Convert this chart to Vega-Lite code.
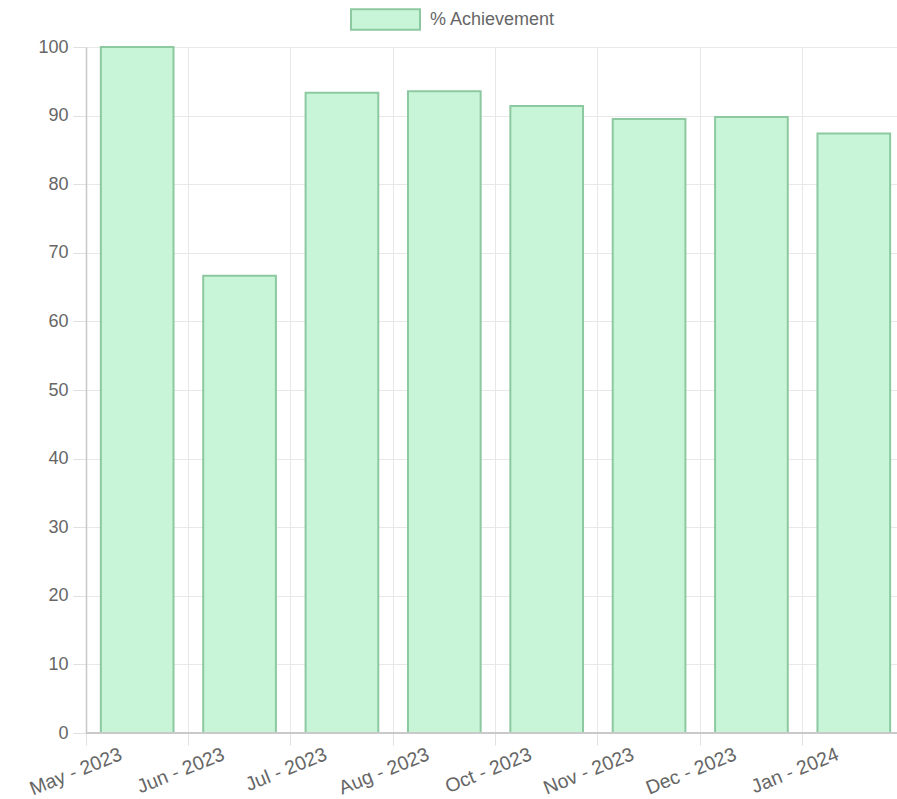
{
  "$schema": "https://vega.github.io/schema/vega-lite/v6.json",
  "autosize": {"type": "none"},
  "padding": {"left": 86, "top": 47, "right": 0, "bottom": 66},
  "width": 811,
  "height": 686,
  "background": "white",
  "config": {
    "view": {"stroke": null},
    "font": "Liberation Sans"
  },
  "data": {
    "values": [
      {"month": "May - 2023", "achievement": 100},
      {"month": "Jun - 2023", "achievement": 66.67},
      {"month": "Jul - 2023", "achievement": 93.33},
      {"month": "Aug - 2023", "achievement": 93.55},
      {"month": "Oct - 2023", "achievement": 91.4},
      {"month": "Nov - 2023", "achievement": 89.5},
      {"month": "Dec - 2023", "achievement": 89.8},
      {"month": "Jan - 2024", "achievement": 87.4}
    ]
  },
  "encoding": {
    "x": {
      "field": "month",
      "type": "nominal",
      "sort": null,
      "scale": {"paddingInner": 0, "paddingOuter": 0, "range": [0, 819]},
      "axis": {
        "title": null,
        "bandPosition": 0,
        "grid": true,
        "gridColor": "#e8e8e8",
        "gridWidth": 1,
        "ticks": true,
        "tickSize": 12,
        "tickColor": "#e0e0e0",
        "domain": false,
        "labelAngle": -22,
        "labelAlign": "right",
        "labelBaseline": "middle",
        "labelOffset": -16,
        "labelPadding": 8,
        "labelFontSize": 19.5,
        "labelColor": "#666666",
        "labelFont": "Liberation Sans"
      }
    },
    "y": {
      "field": "achievement",
      "type": "quantitative",
      "scale": {"domain": [0, 100], "nice": false},
      "axis": {
        "title": null,
        "values": [0, 10, 20, 30, 40, 50, 60, 70, 80, 90, 100],
        "grid": true,
        "gridColor": "#e8e8e8",
        "ticks": true,
        "tickSize": 13,
        "tickColor": "#e0e0e0",
        "domain": true,
        "domainColor": "#c8c8c8",
        "domainWidth": 1.5,
        "labelPadding": 5,
        "labelFontSize": 18,
        "labelColor": "#666666",
        "labelFont": "Liberation Sans"
      }
    },
    "color": {
      "datum": "% Achievement",
      "type": "nominal",
      "scale": {"range": ["#c8f5d8"]},
      "legend": {
        "title": null,
        "orient": "none",
        "legendX": 264,
        "legendY": -63,
        "symbolType": "M-1,-0.3L1,-0.3L1,0.3L-1,0.3Z",
        "symbolSize": 4761,
        "symbolStrokeColor": "#8cc9a0",
        "symbolStrokeWidth": 2,
        "symbolOpacity": 1,
        "labelFontSize": 18,
        "labelColor": "#666666",
        "labelFont": "Liberation Sans",
        "labelOffset": 9
      }
    }
  },
  "layer": [
    {"mark": {"type": "bar", "width": {"band": 0.71}, "stroke": "#8cc9a0", "strokeWidth": 2}},
    {
      "mark": {"type": "rule", "color": "#c8c8c8", "strokeWidth": 1.5},
      "encoding": {"y": {"datum": 0}, "x": null, "color": null}
    }
  ]
}
